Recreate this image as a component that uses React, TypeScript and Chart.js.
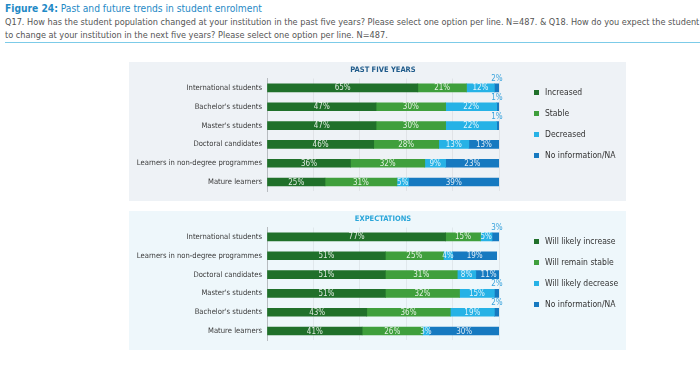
import React, { useEffect, useRef } from "react";
import { Chart, registerables } from "chart.js";

Chart.register(...registerables);

const FONT = '"DejaVu Sans Condensed", "Liberation Sans Narrow", "Open Sans", sans-serif';

const pastCategories = [
  "International students",
  "Bachelor's students",
  "Master's students",
  "Doctoral candidates",
  "Learners in non-degree programmes",
  "Mature learners",
];
const pastIncreased = [65, 47, 47, 46, 36, 25];
const pastStable = [21, 30, 30, 28, 32, 31];
const pastDecreased = [12, 22, 22, 13, 9, 5];
const pastNA = [2, 1, 1, 13, 23, 39];
const pastLegend = ["Increased", "Stable", "Decreased", "No information/NA"];

const expCategories = [
  "International students",
  "Learners in non-degree programmes",
  "Doctoral candidates",
  "Master's students",
  "Bachelor's students",
  "Mature learners",
];
const expIncrease = [77, 51, 51, 51, 43, 41];
const expStable = [15, 25, 31, 32, 36, 26];
const expDecrease = [5, 4, 8, 15, 19, 3];
const expNA = [3, 19, 11, 2, 2, 30];
const expLegend = ["Will likely increase", "Will remain stable", "Will likely decrease", "No information/NA"];

const COLORS = ["#20702a", "#3f9f3c", "#26b2e6", "#1679c0"];

const labelPlugin = {
  id: "segLabels",
  afterDatasetsDraw(chart: any) {
    const ctx = chart.ctx;
    ctx.save();
    ctx.font = `8px ${FONT}`;
    ctx.textAlign = "center";
    ctx.textBaseline = "middle";
    chart.data.datasets.forEach((ds: any, di: number) => {
      const meta = chart.getDatasetMeta(di);
      meta.data.forEach((el: any, i: number) => {
        const v = ds.data[i];
        const txt = v + "%";
        if (di === 3 && v <= 3) {
          ctx.fillStyle = "#3aa3dc";
          ctx.fillText(txt, el.x - 2, el.y - 9);
        } else {
          ctx.fillStyle = "rgba(255,255,255,0.85)";
          ctx.fillText(txt, (el.x + el.base) / 2, el.y + 0.5);
        }
      });
    });
    ctx.restore();
  },
};

function Panel(props: {
  top: number;
  bg: string;
  title: string;
  titleColor: string;
  categories: string[];
  series: number[][];
  legend: string[];
}) {
  const ref = useRef<HTMLCanvasElement>(null);
  useEffect(() => {
    const chart = new Chart(ref.current as HTMLCanvasElement, {
      type: "bar",
      data: {
        labels: props.categories,
        datasets: props.series.map((d, i) => ({
          label: props.legend[i],
          data: d,
          backgroundColor: COLORS[i],
          barThickness: 8,
          borderWidth: 0,
        })),
      },
      options: {
        indexAxis: "y",
        responsive: false,
        animation: false,
        devicePixelRatio: 1,
        layout: { padding: { left: 0, right: 127, top: 16.5, bottom: 7.5 } },
        plugins: { legend: { display: false }, tooltip: { enabled: false }, title: { display: false } },
        scales: {
          x: {
            stacked: true,
            min: 0,
            max: 100,
            ticks: { display: false, stepSize: 20 },
            grid: { drawTicks: false, color: "rgba(0,0,0,0.06)", lineWidth: 1 },
            border: { display: false },
            afterFit: (s: any) => {
              s.height = 0;
            },
          },
          y: {
            stacked: true,
            grid: { display: false, drawTicks: false },
            border: { display: true, color: "#b8bcc0", width: 1 },
            ticks: { color: "#3a3a3a", font: { family: FONT, size: 7.6 }, padding: 5 },
            afterFit: (s: any) => {
              s.width = 138;
            },
          },
        },
      },
      plugins: [labelPlugin],
    } as any);
    return () => chart.destroy();
  }, []);
  return (
    <div style={{ position: "absolute", left: 129, top: props.top, width: 497, height: 139, background: props.bg }}>
      <canvas ref={ref} width={497} height={139} style={{ position: "absolute", left: 0, top: 0 }} />
      <div
        style={{
          position: "absolute",
          left: 138,
          width: 232,
          top: 3,
          textAlign: "center",
          fontFamily: FONT,
          fontWeight: "bold",
          fontSize: 7.5,
          color: props.titleColor,
        }}
      >
        {props.title}
      </div>
      {props.legend.map((l, i) => (
        <div
          key={l}
          style={{
            position: "absolute",
            left: 405,
            top: 25 + i * 21,
            fontFamily: FONT,
            fontSize: 8.5,
            color: "#333",
            whiteSpace: "nowrap",
            display: "flex",
            alignItems: "center",
          }}
        >
          <span style={{ display: "inline-block", width: 5, height: 5, background: COLORS[i], marginRight: 6 }} />
          {l}
        </div>
      ))}
    </div>
  );
}

export default function App() {
  return (
    <div style={{ position: "fixed", left: 0, top: 0, width: 700, height: 370, background: "#fff", overflow: "hidden" }}>
      <div style={{ position: "absolute", left: 5, top: 3, fontFamily: FONT, fontSize: 10.2, color: "#1f8ac6", whiteSpace: "nowrap" }}>
        <b>Figure 24:</b> Past and future trends in student enrolment
      </div>
      <div
        style={{
          position: "absolute",
          left: 5,
          top: 16,
          width: 700,
          fontFamily: FONT,
          fontSize: 9.1,
          lineHeight: "13px",
          color: "#555",
          whiteSpace: "nowrap",
        }}
      >
        Q17. How has the student population changed at your institution in the past five years? Please select one option per line. N=487. &amp; Q18. How do you expect the student
        <br />
        to change at your institution in the next five years? Please select one option per line. N=487.
      </div>
      <div style={{ position: "absolute", left: 5, top: 42, width: 695, height: 1, background: "#7ccbe8" }} />
      <Panel
        top={62}
        bg="#eef2f6"
        title="PAST FIVE YEARS"
        titleColor="#1e5a8a"
        categories={pastCategories}
        series={[pastIncreased, pastStable, pastDecreased, pastNA]}
        legend={pastLegend}
      />
      <Panel
        top={211}
        bg="#eef7fb"
        title="EXPECTATIONS"
        titleColor="#2aa6d9"
        categories={expCategories}
        series={[expIncrease, expStable, expDecrease, expNA]}
        legend={expLegend}
      />
    </div>
  );
}
